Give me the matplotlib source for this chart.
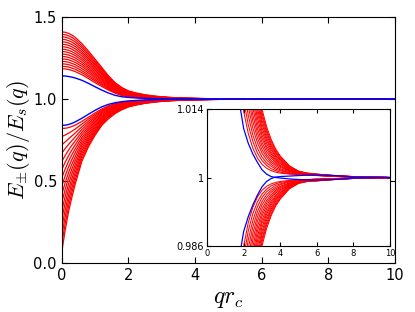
import numpy as np
import matplotlib
matplotlib.use("Agg")
import matplotlib.pyplot as plt
from matplotlib.ticker import FormatStrFormatter

# q r_c sample points
q = [0, 0.1, 0.2, 0.3, 0.4, 0.6, 0.8, 1.0, 1.2, 1.4, 1.6, 1.8, 2.0, 2.25, 2.5,
     2.75, 3.0, 3.25, 3.5, 3.75, 4.0, 4.5, 5.0, 5.5, 6.0, 7.0, 8.0, 10.0]

# blue curves: E+/Es - 1 and 1 - E-/Es
blue_up = [0.142, 0.141, 0.138, 0.134, 0.129, 0.115, 0.096, 0.075, 0.055, 0.037,
           0.023, 0.0145, 0.0100, 0.0070, 0.0048, 0.0031, 0.0016, 0.0007, 0.0002,
           0.0, -0.0001, -0.0003, -0.0004, -0.0005, -0.0005, -0.0004, -0.0001, 0.0]
blue_down = [0.160, 0.159, 0.155, 0.148, 0.139, 0.117, 0.092, 0.068, 0.047, 0.032,
             0.022, 0.0155, 0.0110, 0.0080, 0.0056, 0.0036, 0.0019, 0.0008, 0.0002,
             -0.0001, -0.0002, -0.0003, -0.0004, -0.0005, -0.0005, -0.0004, -0.0001, 0.0]

# red curves, upper branch: E+/Es - 1, one row per q, one column per curve
red_up = [
    [0.185, 0.200, 0.215, 0.230, 0.245, 0.260, 0.275, 0.290, 0.305, 0.320, 0.335, 0.350, 0.365, 0.380, 0.395, 0.410],
    [0.184, 0.199, 0.214, 0.229, 0.244, 0.259, 0.274, 0.289, 0.303, 0.318, 0.333, 0.348, 0.363, 0.378, 0.393, 0.408],
    [0.181, 0.196, 0.210, 0.225, 0.240, 0.254, 0.269, 0.284, 0.298, 0.313, 0.328, 0.342, 0.357, 0.372, 0.386, 0.401],
    [0.175, 0.189, 0.204, 0.218, 0.233, 0.247, 0.261, 0.276, 0.290, 0.305, 0.319, 0.333, 0.348, 0.362, 0.377, 0.391],
    [0.168, 0.182, 0.196, 0.210, 0.224, 0.238, 0.252, 0.266, 0.279, 0.293, 0.307, 0.321, 0.335, 0.349, 0.363, 0.377],
    [0.149, 0.162, 0.174, 0.187, 0.200, 0.212, 0.225, 0.238, 0.250, 0.263, 0.276, 0.288, 0.301, 0.314, 0.326, 0.339],
    [0.125, 0.136, 0.147, 0.159, 0.170, 0.181, 0.192, 0.203, 0.215, 0.226, 0.237, 0.248, 0.259, 0.271, 0.282, 0.293],
    [0.100, 0.110, 0.119, 0.129, 0.138, 0.148, 0.157, 0.167, 0.176, 0.186, 0.195, 0.205, 0.214, 0.224, 0.233, 0.243],
    [0.077, 0.085, 0.092, 0.100, 0.108, 0.116, 0.123, 0.131, 0.139, 0.147, 0.154, 0.162, 0.170, 0.178, 0.185, 0.193],
    [0.055, 0.061, 0.067, 0.072, 0.078, 0.084, 0.090, 0.096, 0.101, 0.107, 0.113, 0.119, 0.125, 0.130, 0.136, 0.142],
    [0.036, 0.040, 0.045, 0.049, 0.053, 0.057, 0.062, 0.066, 0.070, 0.074, 0.079, 0.083, 0.087, 0.091, 0.096, 0.100],
    [0.0220, 0.0253, 0.0285, 0.0318, 0.0351, 0.0383, 0.0416, 0.0449, 0.0481, 0.0514, 0.0547, 0.0579, 0.0612, 0.0645, 0.0677, 0.0710],
    [0.0135, 0.0159, 0.0184, 0.0208, 0.0232, 0.0257, 0.0281, 0.0305, 0.0330, 0.0354, 0.0378, 0.0403, 0.0427, 0.0451, 0.0476, 0.0500],
    [0.0090, 0.0108, 0.0127, 0.0145, 0.0163, 0.0181, 0.0200, 0.0218, 0.0236, 0.0254, 0.0273, 0.0291, 0.0309, 0.0327, 0.0346, 0.0364],
    [0.0060, 0.0074, 0.0087, 0.0101, 0.0115, 0.0128, 0.0142, 0.0156, 0.0169, 0.0183, 0.0197, 0.0210, 0.0224, 0.0238, 0.0251, 0.0265],
    [0.0040, 0.0050, 0.0060, 0.0071, 0.0081, 0.0091, 0.0101, 0.0111, 0.0122, 0.0132, 0.0142, 0.0152, 0.0162, 0.0173, 0.0183, 0.0193],
    [0.0027, 0.0035, 0.0042, 0.0050, 0.0057, 0.0065, 0.0072, 0.0080, 0.0087, 0.0095, 0.0102, 0.0110, 0.0117, 0.0125, 0.0132, 0.0140],
    [0.0019, 0.0025, 0.0030, 0.0036, 0.0042, 0.0047, 0.0053, 0.0059, 0.0064, 0.0070, 0.0076, 0.0081, 0.0087, 0.0093, 0.0098, 0.0104],
    [0.0014, 0.0018, 0.0023, 0.0027, 0.0031, 0.0035, 0.0040, 0.0044, 0.0048, 0.0052, 0.0057, 0.0061, 0.0065, 0.0069, 0.0074, 0.0078],
    [0.0011, 0.0014, 0.0017, 0.0020, 0.0024, 0.0027, 0.0030, 0.0033, 0.0036, 0.0039, 0.0042, 0.0045, 0.0049, 0.0052, 0.0055, 0.0058],
    [0.0009, 0.0011, 0.0014, 0.0016, 0.0018, 0.0021, 0.0023, 0.0025, 0.0028, 0.0030, 0.0032, 0.0035, 0.0037, 0.0039, 0.0042, 0.0044],
    [0.0007, 0.0008, 0.0009, 0.0010, 0.0012, 0.0013, 0.0014, 0.0015, 0.0016, 0.0017, 0.0018, 0.0019, 0.0021, 0.0022, 0.0023, 0.0024],
    [0.00060, 0.00065, 0.00069, 0.00074, 0.00079, 0.00083, 0.00088, 0.00093, 0.00097, 0.00102, 0.00107, 0.00111, 0.00116, 0.00121, 0.00125, 0.00130],
    [0.00050, 0.00053, 0.00055, 0.00058, 0.00061, 0.00063, 0.00066, 0.00069, 0.00071, 0.00074, 0.00077, 0.00079, 0.00082, 0.00085, 0.00087, 0.00090],
    [0.00040, 0.00042, 0.00044, 0.00046, 0.00048, 0.00050, 0.00052, 0.00054, 0.00056, 0.00058, 0.00060, 0.00062, 0.00064, 0.00066, 0.00068, 0.00070],
    [0.00020, 0.00021, 0.00023, 0.00024, 0.00025, 0.00027, 0.00028, 0.00029, 0.00031, 0.00032, 0.00033, 0.00035, 0.00036, 0.00037, 0.00039, 0.00040],
    [0.00010, 0.00011, 0.00011, 0.00012, 0.00013, 0.00013, 0.00014, 0.00015, 0.00015, 0.00016, 0.00017, 0.00017, 0.00018, 0.00019, 0.00019, 0.00020],
    [0.0] * 16,
]

# red curves, lower branch: 1 - E-/Es, one row per q
red_down = [
    [0.179, 0.229, 0.279, 0.329, 0.380, 0.430, 0.480, 0.530, 0.580, 0.630, 0.680, 0.730, 0.781, 0.831, 0.881, 0.931],
    [0.178, 0.219, 0.261, 0.302, 0.344, 0.385, 0.427, 0.468, 0.510, 0.551, 0.593, 0.634, 0.676, 0.717, 0.759, 0.800],
    [0.174, 0.208, 0.243, 0.277, 0.312, 0.346, 0.380, 0.415, 0.449, 0.484, 0.518, 0.552, 0.587, 0.621, 0.656, 0.690],
    [0.167, 0.196, 0.225, 0.254, 0.282, 0.311, 0.340, 0.369, 0.398, 0.427, 0.456, 0.485, 0.513, 0.542, 0.571, 0.600],
    [0.159, 0.183, 0.207, 0.231, 0.255, 0.279, 0.303, 0.327, 0.352, 0.376, 0.400, 0.424, 0.448, 0.472, 0.496, 0.520],
    [0.136, 0.152, 0.169, 0.185, 0.201, 0.217, 0.234, 0.250, 0.266, 0.282, 0.299, 0.315, 0.331, 0.347, 0.364, 0.380],
    [0.110, 0.122, 0.134, 0.146, 0.158, 0.170, 0.182, 0.194, 0.206, 0.218, 0.230, 0.242, 0.254, 0.266, 0.278, 0.290],
    [0.084, 0.093, 0.102, 0.111, 0.120, 0.129, 0.138, 0.147, 0.157, 0.166, 0.175, 0.184, 0.193, 0.202, 0.211, 0.220],
    [0.060, 0.067, 0.073, 0.080, 0.087, 0.093, 0.100, 0.107, 0.113, 0.120, 0.127, 0.133, 0.140, 0.147, 0.153, 0.160],
    [0.041, 0.046, 0.052, 0.057, 0.062, 0.067, 0.073, 0.078, 0.083, 0.088, 0.094, 0.099, 0.104, 0.109, 0.115, 0.120],
    [0.028, 0.032, 0.036, 0.040, 0.044, 0.048, 0.052, 0.056, 0.060, 0.064, 0.068, 0.072, 0.076, 0.080, 0.084, 0.088],
    [0.020, 0.023, 0.026, 0.029, 0.032, 0.035, 0.038, 0.041, 0.044, 0.047, 0.050, 0.053, 0.056, 0.059, 0.062, 0.065],
    [0.0140, 0.0163, 0.0185, 0.0208, 0.0231, 0.0253, 0.0276, 0.0299, 0.0321, 0.0344, 0.0367, 0.0389, 0.0412, 0.0435, 0.0457, 0.0480],
    [0.0092, 0.0109, 0.0127, 0.0144, 0.0162, 0.0179, 0.0196, 0.0214, 0.0231, 0.0249, 0.0266, 0.0283, 0.0301, 0.0318, 0.0336, 0.0353],
    [0.0061, 0.0074, 0.0088, 0.0101, 0.0114, 0.0127, 0.0141, 0.0154, 0.0167, 0.0180, 0.0194, 0.0207, 0.0220, 0.0233, 0.0247, 0.0260],
    [0.0040, 0.0050, 0.0060, 0.0070, 0.0080, 0.0090, 0.0100, 0.0110, 0.0120, 0.0130, 0.0140, 0.0150, 0.0160, 0.0170, 0.0180, 0.0190],
    [0.0026, 0.0034, 0.0041, 0.0049, 0.0056, 0.0064, 0.0072, 0.0079, 0.0087, 0.0094, 0.0102, 0.0110, 0.0117, 0.0125, 0.0132, 0.0140],
    [0.0018, 0.0024, 0.0029, 0.0035, 0.0041, 0.0047, 0.0052, 0.0058, 0.0064, 0.0070, 0.0075, 0.0081, 0.0087, 0.0093, 0.0098, 0.0104],
    [0.0013, 0.0017, 0.0022, 0.0026, 0.0030, 0.0035, 0.0039, 0.0043, 0.0048, 0.0052, 0.0056, 0.0061, 0.0065, 0.0069, 0.0074, 0.0078],
    [0.0010, 0.0013, 0.0016, 0.0020, 0.0023, 0.0026, 0.0029, 0.0032, 0.0036, 0.0039, 0.0042, 0.0045, 0.0048, 0.0052, 0.0055, 0.0058],
    [0.0008, 0.0010, 0.0013, 0.0015, 0.0018, 0.0020, 0.0022, 0.0025, 0.0027, 0.0030, 0.0032, 0.0034, 0.0037, 0.0039, 0.0042, 0.0044],
    [0.0006, 0.0007, 0.0008, 0.0009, 0.0011, 0.0012, 0.0013, 0.0014, 0.0015, 0.0016, 0.0017, 0.0018, 0.0020, 0.0021, 0.0022, 0.0023],
    [0.00050, 0.00055, 0.00059, 0.00064, 0.00069, 0.00073, 0.00078, 0.00083, 0.00087, 0.00092, 0.00097, 0.00101, 0.00106, 0.00111, 0.00115, 0.00120],
    [0.00040, 0.00043, 0.00045, 0.00048, 0.00051, 0.00053, 0.00056, 0.00059, 0.00061, 0.00064, 0.00067, 0.00069, 0.00072, 0.00075, 0.00077, 0.00080],
    [0.00030, 0.00033, 0.00035, 0.00038, 0.00041, 0.00043, 0.00046, 0.00049, 0.00051, 0.00054, 0.00057, 0.00059, 0.00062, 0.00065, 0.00067, 0.00070],
    [0.00020, 0.00021, 0.00023, 0.00024, 0.00025, 0.00027, 0.00028, 0.00029, 0.00031, 0.00032, 0.00033, 0.00035, 0.00036, 0.00037, 0.00039, 0.00040],
    [0.00010, 0.00011, 0.00011, 0.00012, 0.00013, 0.00013, 0.00014, 0.00015, 0.00015, 0.00016, 0.00017, 0.00017, 0.00018, 0.00019, 0.00019, 0.00020],
    [0.0] * 16,
]

plt.rcParams.update({
    "mathtext.fontset": "cm",
    "xtick.direction": "in",
    "ytick.direction": "in",
    "xtick.top": True,
    "ytick.right": True,
    "xtick.major.size": 4,
    "ytick.major.size": 4,
})

q_arr = np.array(q)
up_curves = np.array(red_up).T
down_curves = np.array(red_down).T


def draw_curves(ax, lw_red, lw_blue):
    for c in up_curves:
        ax.plot(q_arr, 1 + c, color="red", lw=lw_red)
    for c in down_curves:
        ax.plot(q_arr, 1 - c, color="red", lw=lw_red)
    ax.plot(q_arr, 1 + np.array(blue_up), color="blue", lw=lw_blue)
    ax.plot(q_arr, 1 - np.array(blue_down), color="blue", lw=lw_blue)


fig = plt.figure(figsize=(4.15, 3.12), dpi=100)
ax = fig.add_axes([0.149, 0.157, 0.803, 0.788])
draw_curves(ax, 0.9, 1.0)
ax.set_xlim(0, 10)
ax.set_ylim(0, 1.5)
ax.set_xticks([0, 2, 4, 6, 8, 10])
ax.set_yticks([0.0, 0.5, 1.0, 1.5])
ax.yaxis.set_major_formatter(FormatStrFormatter("%.1f"))
ax.tick_params(labelsize=10.5)
ax.set_xlabel(r"$qr_c$", fontsize=17, labelpad=2)
ax.set_ylabel(r"$E_{\pm}(q)/E_s(q)$", fontsize=16, labelpad=1)

# inset zoomed near 1
axi = fig.add_axes([0.499, 0.2115, 0.441, 0.439])
draw_curves(axi, 0.75, 0.9)
axi.set_xlim(0, 10)
axi.set_ylim(0.986, 1.014)
axi.set_xticks([0, 2, 4, 6, 8, 10])
axi.set_yticks([0.986, 1.0, 1.014])
axi.set_yticklabels(["0.986", "1", "1.014"])
axi.tick_params(axis="x", labelsize=6, pad=2, length=3)
axi.tick_params(axis="y", labelsize=7, pad=2, length=3)

fig.savefig("out.png", dpi=100)
